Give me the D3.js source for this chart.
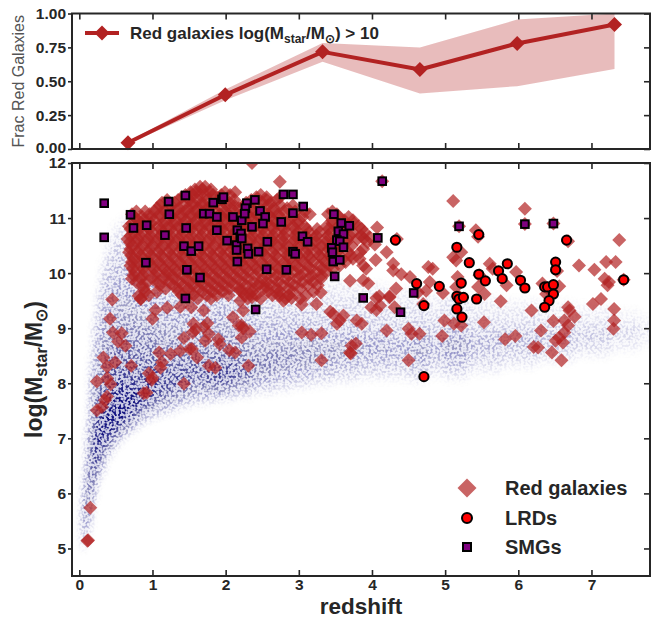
<!DOCTYPE html>
<html>
<head>
<meta charset="utf-8">
<script src="https://cdn.jsdelivr.net/npm/d3@7"></script>
<style>
  body { margin: 0; background: #fff; }
  svg { display: block; }
  text { font-family: "Liberation Sans", Arial, Helvetica, sans-serif; fill: #262626; }
</style>
</head>
<body>
<svg id="fig" width="664" height="619"></svg>
<script>
// ---------- fraction of red galaxies (log M* > 10) per redshift bin ----------
const fracZ   = [0.665, 1.995, 3.325, 4.655, 5.985, 7.315];
const fracVal = [0.046, 0.40, 0.717, 0.587, 0.779, 0.919];
const fracLo  = [0.036, 0.36, 0.643, 0.41, 0.464, 0.59];
const fracHi  = [0.056, 0.44, 0.783, 0.75, 0.955, 1.0];

// ---------- full photometric sample: density profile per redshift column ----------
const cloudZ   = [0.05, 0.1, 0.15, 0.2, 0.25, 0.3, 0.4, 0.5, 0.6, 0.7, 0.8, 0.9, 1.0, 1.1, 1.25, 1.4, 1.6, 1.8, 2.0, 2.2, 2.5, 2.8, 3.0, 3.3, 3.6, 4.0, 4.4, 4.65, 4.85, 5.1, 5.5, 6.0, 6.5, 7.0, 7.5, 7.8];
const cloudLo  = [4.9, 5.0, 5.3, 5.8, 6.1, 6.3, 6.6, 6.8, 6.95, 7.05, 7.15, 7.25, 7.3, 7.35, 7.4, 7.5, 7.55, 7.6, 7.65, 7.7, 7.75, 7.8, 7.85, 7.9, 7.95, 8.0, 8.0, 7.95, 8.05, 8.0, 8.1, 8.2, 8.3, 8.4, 8.5, 8.6];
const cloudPk  = [5.5, 5.9, 6.3, 6.7, 6.9, 7.1, 7.3, 7.4, 7.5, 7.6, 7.7, 7.8, 7.9, 7.95, 8.0, 8.1, 8.2, 8.15, 8.15, 8.2, 8.35, 8.45, 8.5, 8.55, 8.6, 8.65, 8.65, 8.6, 8.7, 8.7, 8.75, 8.8, 8.85, 8.9, 8.95, 9.0];
const cloudHi  = [6.4, 7.4, 8.6, 9.3, 9.8, 10.3, 10.7, 11.0, 11.1, 11.2, 11.1, 11.0, 11.1, 10.9, 10.8, 10.7, 10.6, 10.5, 10.5, 10.4, 10.3, 10.2, 10.1, 10.0, 10.0, 9.9, 9.8, 9.8, 9.7, 9.75, 9.65, 9.6, 9.55, 9.5, 9.4, 9.3];
const cloudDen = [0.35, 0.5, 0.65, 0.75, 0.82, 0.86, 0.92, 0.95, 0.9, 0.85, 0.8, 0.76, 0.76, 0.68, 0.66, 0.66, 0.62, 0.66, 0.7, 0.6, 0.5, 0.47, 0.45, 0.42, 0.38, 0.35, 0.32, 0.38, 0.3, 0.4, 0.28, 0.26, 0.24, 0.2, 0.15, 0.08];

// ---------- red galaxies: dense core, rows of [logM, redshifts] ----------
const redCoreRows = [
  [11.57, [1.65, 1.72]],
  [11.52, [1.58, 1.68, 1.80]],
  [11.47, [1.52, 1.60, 1.78, 1.99, 2.13]],
  [11.42, [1.45, 1.55, 1.65, 1.72, 1.83, 1.94, 2.06, 2.48]],
  [11.38, [1.40, 1.48, 1.88, 2.42, 2.56, 2.74]],
  [11.33, [1.20, 1.35, 1.50, 1.62, 1.75, 1.95, 2.12, 2.35, 2.56, 2.70]],
  [11.28, [1.13, 1.30, 1.55, 1.68, 1.87, 2.05, 2.28, 2.50, 2.62]],
  [11.23, [1.10, 1.25, 1.42, 1.55, 1.68, 1.82, 2.02, 2.12, 2.25, 2.44, 2.58, 2.75, 2.92]],
  [11.18, [1.06, 1.20, 1.36, 1.48, 1.62, 1.75, 1.95, 2.18, 2.36, 2.66, 2.84]],
  [11.12, [0.78, 0.90, 1.03, 1.17, 1.31, 1.45, 1.59, 1.73, 1.87, 1.99, 2.12, 2.25, 2.38, 2.52, 2.65, 2.80, 2.95, 3.08, 3.46]],
  [11.07, [0.72, 0.96, 1.10, 1.25, 1.38, 1.52, 1.66, 1.80, 1.92, 2.05, 2.30, 2.45, 2.58, 2.72, 3.15, 3.40, 3.52]],
  [11.02, [0.75, 0.86, 0.98, 1.12, 1.26, 1.40, 1.54, 1.68, 1.80, 1.94, 2.07, 2.20, 2.32, 2.46, 2.60, 2.74, 2.92, 3.05, 3.55, 3.68]],
  [10.96, [0.80, 0.88, 1.02, 1.18, 1.32, 1.46, 1.60, 1.74, 1.86, 2.00, 2.12, 2.25, 2.38, 2.52, 2.66, 2.86, 3.00, 3.46, 3.62, 3.74]],
  [10.90, [0.72, 0.85, 0.98, 1.15, 1.29, 1.43, 1.57, 1.71, 1.85, 1.99, 2.13, 2.27, 2.41, 2.55, 2.69, 2.83, 2.99, 3.46, 3.76]],
  [10.85, [0.68, 0.78, 0.92, 1.08, 1.22, 1.36, 1.50, 1.64, 1.78, 1.92, 2.06, 2.20, 2.34, 2.48, 2.62, 2.76, 2.92, 3.08, 3.38, 3.54, 3.68, 3.82]],
  [10.80, [0.70, 0.82, 0.96, 1.11, 1.25, 1.39, 1.53, 1.67, 1.81, 1.95, 2.09, 2.23, 2.37, 2.51, 2.65, 2.80, 2.95, 3.11, 3.25, 3.41, 3.57, 3.86]],
  [10.74, [0.74, 0.86, 1.00, 1.14, 1.28, 1.42, 1.56, 1.70, 1.84, 1.98, 2.12, 2.26, 2.40, 2.54, 2.68, 2.82, 2.98, 3.14, 3.28, 3.44, 3.60, 3.74, 3.90]],
  [10.68, [0.70, 0.83, 0.97, 1.11, 1.25, 1.39, 1.53, 1.67, 1.81, 1.95, 2.09, 2.23, 2.37, 2.51, 2.65, 2.79, 2.95, 3.09, 3.24, 3.40, 3.70, 3.85]],
  [10.62, [0.66, 0.80, 0.94, 1.08, 1.22, 1.36, 1.50, 1.64, 1.78, 1.92, 2.06, 2.20, 2.34, 2.48, 2.62, 2.76, 2.92, 3.06, 3.20, 3.36, 3.52, 3.66, 3.80]],
  [10.56, [0.69, 0.79, 0.93, 1.07, 1.21, 1.35, 1.49, 1.63, 1.77, 1.91, 2.05, 2.19, 2.33, 2.47, 2.62, 2.77, 2.92, 3.07, 3.22, 3.37, 3.51, 3.65, 3.94]],
  [10.50, [0.72, 0.86, 1.00, 1.14, 1.28, 1.42, 1.56, 1.70, 1.84, 1.98, 2.12, 2.26, 2.40, 2.54, 2.70, 2.84, 3.00, 3.14, 3.30, 3.44, 3.58, 3.72]],
  [10.44, [0.70, 0.83, 0.97, 1.11, 1.25, 1.39, 1.53, 1.67, 1.81, 1.95, 2.09, 2.23, 2.37, 2.52, 2.67, 2.82, 2.98, 3.12, 3.27, 3.41, 3.55, 3.88]],
  [10.38, [0.68, 0.80, 0.94, 1.08, 1.22, 1.36, 1.50, 1.64, 1.78, 1.92, 2.06, 2.20, 2.34, 2.50, 2.64, 2.80, 2.96, 3.10, 3.24, 3.38, 3.52, 3.68, 3.84]],
  [10.32, [0.71, 0.84, 0.98, 1.12, 1.26, 1.40, 1.54, 1.68, 1.82, 1.96, 2.10, 2.24, 2.38, 2.54, 2.68, 2.84, 2.99, 3.13, 3.28, 3.42, 3.71]],
  [10.26, [0.74, 0.88, 1.02, 1.16, 1.30, 1.44, 1.58, 1.72, 1.86, 2.00, 2.14, 2.28, 2.42, 2.58, 2.72, 2.88, 3.02, 3.16, 3.32, 3.46, 3.60, 3.74]],
  [10.20, [0.72, 0.81, 0.95, 1.09, 1.23, 1.37, 1.51, 1.65, 1.79, 1.93, 2.07, 2.21, 2.35, 2.49, 2.65, 2.80, 2.92, 3.06, 3.20, 3.36, 3.64]],
  [10.14, [0.70, 0.84, 0.98, 1.12, 1.26, 1.40, 1.54, 1.68, 1.82, 1.96, 2.10, 2.24, 2.38, 2.52, 2.68, 2.82, 2.96, 3.12, 3.28, 3.42, 3.56]],
  [10.08, [0.73, 0.87, 1.02, 1.16, 1.30, 1.44, 1.58, 1.72, 1.86, 2.00, 2.14, 2.28, 2.42, 2.56, 2.72, 2.86, 3.01, 3.16, 3.32, 3.47]],
  [10.02, [0.76, 0.90, 1.06, 1.20, 1.34, 1.48, 1.62, 1.76, 1.90, 2.04, 2.18, 2.32, 2.46, 2.62, 2.78, 2.94, 3.08, 3.24, 3.38]],
  [9.96,  [0.74, 0.87, 1.03, 1.18, 1.27, 1.41, 1.55, 1.69, 1.83, 1.97, 2.11, 2.25, 2.40, 2.56, 2.70, 2.86, 3.02, 3.17, 3.31]],
  [9.90,  [0.72, 0.84, 1.00, 1.16, 1.30, 1.46, 1.60, 1.74, 1.88, 2.02, 2.16, 2.30, 2.50, 2.66, 2.82, 2.98, 3.14, 3.30]],
  [9.84,  [0.78, 0.93, 1.08, 1.23, 1.37, 1.51, 1.65, 1.79, 1.93, 2.07, 2.22, 2.38, 2.56, 2.72, 2.88, 3.05, 3.20]],
  [9.78,  [0.86, 1.10, 1.28, 1.42, 1.56, 1.70, 1.84, 1.98, 2.12, 2.28, 2.44, 2.62, 2.78, 2.94, 3.12, 3.26]],
  [9.72,  [0.88, 1.18, 1.34, 1.49, 1.63, 1.77, 1.91, 2.05, 2.20, 2.36, 2.52, 2.70, 2.86, 3.02]],
  [9.66,  [0.90, 1.06, 1.36, 1.52, 1.68, 1.82, 1.96, 2.22, 2.36, 2.58, 2.74, 2.92, 3.20]],
  [9.60,  [0.95, 1.40, 1.56, 1.74, 1.88, 2.04, 2.26, 2.42, 2.64, 2.86]],
  [9.54,  [0.84, 1.46, 1.62, 1.80, 2.30, 2.48, 2.82, 3.02]]
];

// ---------- red galaxies outside the core: [redshift, logM] ----------
const redScatter = [
  [0.11, 5.14], [0.12, 5.15], [0.15, 5.74], [0.24, 7.51], [0.31, 7.57], [0.35, 7.69], [0.38, 7.76],
  [0.24, 8.03], [0.38, 8.09], [0.43, 7.98], [0.33, 8.47], [0.49, 8.38], [0.38, 8.30], [0.46, 8.92],
  [0.58, 8.91], [0.53, 8.76], [0.63, 8.68], [0.42, 9.17], [0.45, 9.52], [0.71, 8.32], [0.81, 9.59],
  [0.84, 9.53], [0.88, 7.82], [0.92, 7.83], [0.99, 8.06], [1.00, 9.17], [1.04, 9.33], [1.20, 9.37],
  [1.09, 8.56], [1.25, 8.53], [1.13, 8.38], [1.11, 8.28], [0.95, 8.18], [1.00, 8.10], [1.43, 7.99],
  [1.43, 8.82], [1.55, 8.92], [1.59, 8.97], [1.54, 8.62], [1.38, 9.39], [1.53, 9.38], [1.70, 9.32],
  [1.75, 9.09], [1.77, 8.90], [1.72, 8.77], [1.92, 8.71], [2.13, 8.56], [1.77, 8.32], [1.86, 8.28],
  [2.22, 9.05], [2.22, 8.83], [2.31, 8.32], [2.33, 8.94], [2.24, 9.00], [1.38, 8.59], [1.51, 8.62],
  [1.61, 8.47], [1.56, 9.08], [1.70, 9.02], [3.04, 8.92], [3.17, 8.88], [3.31, 8.91], [3.31, 8.42],
  [3.72, 8.68], [3.70, 8.56], [3.78, 8.72], [3.71, 8.54], [3.04, 9.43], [3.24, 9.44], [2.79, 9.50],
  [2.74, 9.59], [3.47, 9.26], [3.56, 9.14], [3.61, 9.23], [3.52, 9.08], [3.79, 9.14], [3.86, 9.08],
  [4.11, 9.41], [4.24, 9.56], [3.99, 9.38], [4.06, 9.55], [2.20, 9.50], [2.36, 9.56], [2.24, 9.32],
  [2.70, 9.62], [2.20, 9.68], [2.33, 9.62], [2.47, 9.81], [2.56, 9.75], [2.10, 9.20], [2.18, 9.05],
  [2.05, 8.60], [1.90, 8.80], [3.43, 9.30], [2.90, 9.55], [3.10, 9.60], [3.30, 9.65],
  [2.36, 12.0], [2.74, 11.66], [4.14, 11.67], [5.11, 11.31], [6.09, 11.17], [6.09, 10.89],
  [6.48, 10.90], [5.19, 10.85], [4.07, 10.83], [3.89, 10.63], [3.97, 10.65], [4.04, 10.52],
  [4.20, 10.38], [4.05, 10.24], [3.83, 10.26], [3.88, 10.14], [3.92, 10.08], [4.29, 10.17],
  [4.29, 10.05], [4.40, 9.98], [4.52, 9.93], [3.70, 9.86], [3.88, 9.87], [3.95, 9.81], [4.10, 9.58],
  [4.24, 9.58], [4.06, 9.33], [4.31, 9.38], [4.20, 8.96], [4.50, 8.99], [4.54, 8.90], [4.65, 8.90],
  [4.50, 8.42], [4.33, 9.72], [4.77, 10.11], [4.83, 10.08], [4.79, 9.84], [4.63, 9.65], [4.74, 9.68],
  [4.97, 9.64], [4.99, 9.14], [4.96, 8.86], [5.11, 10.29], [5.15, 10.23], [5.22, 10.38], [5.17, 9.93],
  [5.15, 9.75], [5.12, 9.08], [5.22, 9.05], [5.42, 10.78], [5.45, 10.66], [5.45, 9.75], [5.54, 9.62],
  [5.53, 9.11], [5.61, 10.17], [5.65, 10.08], [5.76, 9.49], [5.84, 9.78], [5.82, 8.80], [5.96, 8.86],
  [5.97, 10.02], [6.18, 9.32], [6.31, 8.96], [6.21, 8.66], [6.27, 8.65], [6.33, 9.81], [6.38, 9.62],
  [6.56, 9.76], [6.46, 8.56], [6.59, 8.42], [6.48, 9.13], [6.51, 8.77], [6.56, 8.83], [6.63, 8.92],
  [6.61, 8.74], [6.68, 9.38], [6.70, 9.32], [6.77, 9.21], [6.68, 10.58], [6.63, 9.14], [6.68, 9.05],
  [6.83, 10.14], [7.04, 10.06], [7.02, 9.44], [7.13, 9.53], [7.20, 10.20], [7.33, 10.20], [7.18, 9.90],
  [7.24, 9.84], [7.22, 9.78], [7.38, 10.60], [7.31, 9.35], [7.31, 9.14], [7.30, 8.99], [7.44, 9.88],
  [4.34, 10.62], [5.47, 9.96], [6.53, 10.04], [6.40, 9.72], [5.20, 9.56], [4.70, 9.44]
];

// ---------- little red dots: [redshift, logM] ----------
const lrds = [
  [4.32, 10.60], [4.61, 9.81], [4.71, 9.41], [4.71, 8.12], [4.92, 9.76], [5.16, 10.47], [5.33, 10.19],
  [5.22, 9.82], [5.16, 9.58], [5.19, 9.53], [5.25, 9.56], [5.16, 9.35], [5.23, 9.20], [5.43, 9.53],
  [5.46, 10.70], [5.46, 9.98], [5.55, 9.86], [5.73, 10.04], [5.78, 9.90], [5.85, 10.17], [6.03, 9.87],
  [6.09, 9.73], [6.36, 9.75], [6.40, 9.75], [6.48, 9.79], [6.48, 9.62], [6.42, 9.50], [6.36, 9.38],
  [6.51, 10.20], [6.51, 10.06], [6.66, 10.60], [7.44, 9.88]
];

// ---------- submillimetre galaxies: [redshift, logM] ----------
const smgs = [
  [0.34, 11.27], [0.34, 10.65], [0.70, 11.06], [0.74, 10.82], [0.92, 10.87], [0.91, 10.19],
  [1.22, 11.30], [1.23, 11.07], [1.17, 10.69], [1.45, 11.41], [1.46, 10.82], [1.43, 10.49],
  [1.53, 10.40], [1.63, 10.49], [1.47, 10.06], [1.65, 9.92], [1.45, 9.54], [1.70, 11.08],
  [1.78, 11.08], [1.88, 11.02], [1.83, 11.28], [1.95, 11.34], [1.97, 11.38], [1.88, 10.78],
  [2.02, 10.59], [2.10, 11.02], [2.16, 10.78], [2.15, 10.51], [2.15, 10.42], [2.16, 10.21],
  [2.20, 10.66], [2.21, 10.72], [2.22, 10.63], [2.29, 11.27], [2.27, 11.18], [2.22, 10.96],
  [2.26, 11.08], [2.30, 10.45], [2.31, 10.35], [2.40, 11.33], [2.47, 11.13], [2.54, 11.02],
  [2.51, 10.90], [2.36, 10.84], [2.57, 10.57], [2.45, 10.39], [2.92, 10.39], [2.95, 10.35],
  [2.56, 10.07], [2.83, 10.06], [3.05, 10.67], [3.12, 10.57], [2.79, 11.43], [2.92, 11.43],
  [3.06, 11.21], [2.92, 11.09], [2.76, 10.93], [3.48, 11.07], [3.58, 10.91], [3.69, 10.86],
  [3.54, 10.76], [3.61, 10.71], [3.52, 10.60], [3.56, 10.58], [3.61, 10.47], [3.45, 10.46],
  [3.46, 10.38], [3.47, 10.21], [3.56, 10.24], [3.49, 9.94], [4.08, 10.64], [3.88, 9.55],
  [4.57, 9.64], [4.14, 11.67], [4.39, 9.29], [5.19, 10.85], [6.09, 10.89], [6.48, 10.90],
  [2.41, 9.34]
];

// ---------- tick labels ----------
const zTicks    = [0, 1, 2, 3, 4, 5, 6, 7];
const massTicks = [5, 6, 7, 8, 9, 10, 11, 12];
const fracTicks = [0, 0.25, 0.5, 0.75, 1.0];

// ---------- palette ----------
const RED = "#b22222";
const INK = "#262626";

const svg  = d3.select("#fig");
const defs = svg.append("defs");

// shared redshift axis, two vertical scales
const x  = d3.scaleLinear().domain([-0.1, 7.8]).range([72, 650]);
const yM = d3.scaleLinear().domain([4.5, 12]).range([576, 163]);
const yF = d3.scaleLinear().domain([0, 1]).range([149, 13.5]);

function frame(g, x0, x1, y0, y1) {
  g.append("rect").attr("x", x0).attr("y", y0).attr("width", x1 - x0).attr("height", y1 - y0)
    .attr("fill", "none").attr("stroke", INK).attr("stroke-width", 2);
}
function styleAxis(g, size) {
  g.select(".domain").remove();
  g.selectAll(".tick line").attr("stroke", INK).attr("stroke-width", 1.6);
  g.selectAll(".tick text").attr("font-size", size).attr("font-weight", "bold").style("fill", INK);
}
const diamondPath = s => d3.symbol(d3.symbolSquare, s * s / 2)();  // s = diagonal length

// ======================= upper panel: red fraction =======================
const fracPanel = svg.append("g");
defs.append("clipPath").attr("id", "clipTop")
  .append("rect").attr("x", x.range()[0]).attr("y", yF(1)).attr("width", x.range()[1] - x.range()[0]).attr("height", yF(0) - yF(1));

const fracData = fracZ.map((z, i) => ({ z, v: fracVal[i], lo: fracLo[i], hi: fracHi[i] }));

fracPanel.append("path")
  .datum(fracData)
  .attr("clip-path", "url(#clipTop)")
  .attr("fill", RED).attr("fill-opacity", 0.3)
  .attr("d", d3.area().x(d => x(d.z)).y0(d => yF(d.lo)).y1(d => yF(d.hi)));

fracPanel.append("path")
  .datum(fracData)
  .attr("fill", "none").attr("stroke", RED).attr("stroke-width", 4).attr("stroke-linejoin", "round")
  .attr("d", d3.line().x(d => x(d.z)).y(d => yF(d.v)));

fracPanel.selectAll(".fm").data(fracData).join("path")
  .attr("d", diamondPath(15))
  .attr("transform", d => `translate(${x(d.z)},${yF(d.v)}) rotate(45)`)
  .attr("fill", RED);

fracPanel.append("g").attr("transform", `translate(${x.range()[0]},0)`)
  .call(d3.axisLeft(yF).tickValues(fracTicks).tickFormat(d3.format(".2f")).tickSize(4).tickPadding(2))
  .call(g => styleAxis(g, 15.5))
  .call(g => g.selectAll(".tick text").filter(d => d === 0).attr("dy", "0.2em"));
fracPanel.append("g").attr("transform", `translate(${x.range()[1]},0)`)
  .call(d3.axisLeft(yF).tickValues(fracTicks).tickFormat("").tickSize(6))
  .call(g => styleAxis(g, 15.5));
fracPanel.append("g").attr("transform", `translate(0,${yF(1)})`)
  .call(d3.axisBottom(x).tickValues(zTicks).tickFormat("").tickSize(6))
  .call(g => styleAxis(g, 15.5));
fracPanel.append("g").attr("transform", `translate(0,${yF(0)})`)
  .call(d3.axisTop(x).tickValues(zTicks).tickFormat("").tickSize(6))
  .call(g => styleAxis(g, 15.5));
frame(fracPanel, x.range()[0], x.range()[1], yF(1), yF(0));

fracPanel.append("text")
  .attr("transform", `translate(24,${(yF(0) + yF(1)) / 2}) rotate(-90)`)
  .attr("text-anchor", "middle").attr("font-size", 16).style("fill", "#555")
  .text("Frac Red Galaxies");

// legend of the upper panel
const lg = fracPanel.append("g");
lg.append("line").attr("x1", 85).attr("x2", 119).attr("y1", 33).attr("y2", 33)
  .attr("stroke", RED).attr("stroke-width", 4);
lg.append("path").attr("d", diamondPath(15)).attr("transform", "translate(102,33) rotate(45)").attr("fill", RED);
const lt = lg.append("text").attr("x", 130).attr("y", 39).attr("font-size", 17).attr("font-weight", "bold");
lt.append("tspan").text("Red galaxies log(M");
lt.append("tspan").attr("font-size", 12).attr("dy", 4).text("star");
lt.append("tspan").attr("dy", -4).text("/M");
lt.append("tspan").attr("font-size", 12).attr("dy", 4).text("⊙");
lt.append("tspan").attr("dy", -4).text(") > 10");

// ======================= lower panel: mass vs redshift =======================
const massPanel = svg.append("g");
defs.append("clipPath").attr("id", "clipBot")
  .append("rect").attr("x", x.range()[0]).attr("y", yM(12)).attr("width", x.range()[1] - x.range()[0]).attr("height", yM(4.5) - yM(12));
const plot = massPanel.append("g").attr("clip-path", "url(#clipBot)");

// parent sample: density haze broken up into small speckles
const grain = defs.append("filter").attr("id", "grain")
  .attr("x", "-3%").attr("y", "-3%").attr("width", "106%").attr("height", "106%");
grain.append("feGaussianBlur").attr("in", "SourceGraphic").attr("stdDeviation", 3).attr("result", "b");
grain.append("feTurbulence").attr("type", "fractalNoise").attr("baseFrequency", 0.42)
  .attr("numOctaves", 1).attr("seed", 11).attr("result", "n");
grain.append("feColorMatrix").attr("in", "n").attr("type", "matrix")
  .attr("values", "0 0 0 0 1  0 0 0 0 1  0 0 0 0 1  0 0 0 5 -2.2").attr("result", "m");
grain.append("feComposite").attr("in", "b").attr("in2", "m").attr("operator", "arithmetic")
  .attr("k1", 1.25).attr("k2", 0.3).attr("k3", 0).attr("k4", 0);

const cloud = plot.append("g").attr("filter", "url(#grain)");
cloudZ.forEach((z, i) => {
  const left  = i === 0 ? z - (cloudZ[1] - z) / 2 : (cloudZ[i - 1] + z) / 2;
  const right = i === cloudZ.length - 1 ? z + (z - cloudZ[i - 1]) / 2 : (z + cloudZ[i + 1]) / 2;
  const hi = cloudHi[i], lo = cloudLo[i], pk = cloudPk[i], d = cloudDen[i] * 0.8;
  const off = (hi - pk) / (hi - lo);
  const grad = defs.append("linearGradient").attr("id", "cg" + i)
    .attr("x1", 0).attr("x2", 0).attr("y1", 0).attr("y2", 1);
  [[0, 0], [off * 0.15, 0.18], [off * 0.55, 0.42], [off * 0.85, 0.75], [off, 1], [off + (1 - off) * 0.5, 0.6], [1, 0]]
    .forEach(([o, a]) => grad.append("stop").attr("offset", o).attr("stop-color", "#15157f").attr("stop-opacity", a * d));
  cloud.append("rect")
    .attr("x", x(left)).attr("width", x(right) - x(left) + 0.6)
    .attr("y", yM(hi)).attr("height", yM(lo) - yM(hi))
    .attr("fill", `url(#cg${i})`);
});

// red galaxies
const redAll = redScatter.concat(redCoreRows.flatMap(([m, zs]) => zs.map(z => [z, m])));
plot.append("g").selectAll("path").data(redAll).join("path")
  .attr("d", diamondPath(14))
  .attr("transform", d => `translate(${x(d[0])},${yM(d[1])}) rotate(45)`)
  .attr("fill", RED).attr("fill-opacity", 0.7);

// LRDs
plot.append("g").selectAll("circle").data(lrds).join("circle")
  .attr("cx", d => x(d[0])).attr("cy", d => yM(d[1])).attr("r", 4.6)
  .attr("fill", "#ff0000").attr("stroke", "#000").attr("stroke-width", 2);

// SMGs
plot.append("g").selectAll("rect").data(smgs).join("rect")
  .attr("x", d => x(d[0]) - 3.8).attr("y", d => yM(d[1]) - 3.8)
  .attr("width", 7.6).attr("height", 7.6)
  .attr("fill", "#800080").attr("stroke", "#000").attr("stroke-width", 2);

massPanel.append("g").attr("transform", `translate(${x.range()[0]},0)`)
  .call(d3.axisLeft(yM).tickValues(massTicks).tickFormat(d3.format("d")).tickSize(4).tickPadding(2))
  .call(g => styleAxis(g, 15.5));
massPanel.append("g").attr("transform", `translate(${x.range()[1]},0)`)
  .call(d3.axisLeft(yM).tickValues(massTicks).tickFormat("").tickSize(6))
  .call(g => styleAxis(g, 15.5));
massPanel.append("g").attr("transform", `translate(0,${yM(12)})`)
  .call(d3.axisBottom(x).tickValues(zTicks).tickFormat("").tickSize(6))
  .call(g => styleAxis(g, 15.5));
massPanel.append("g").attr("transform", `translate(0,${yM(4.5)})`)
  .call(d3.axisBottom(x).tickValues(zTicks).tickFormat(d3.format("d")).tickSize(-6).tickPadding(3))
  .call(g => styleAxis(g, 15.5));
frame(massPanel, x.range()[0], x.range()[1], yM(12), yM(4.5));

massPanel.append("text")
  .attr("x", (x.range()[0] + x.range()[1]) / 2).attr("y", 614)
  .attr("text-anchor", "middle").attr("font-size", 22.5).attr("font-weight", "bold")
  .text("redshift");

const yl = massPanel.append("text")
  .attr("transform", `translate(42,${(yM(4.5) + yM(12)) / 2}) rotate(-90)`)
  .attr("text-anchor", "middle").attr("font-size", 23).attr("font-weight", "bold");
yl.append("tspan").text("log(M");
yl.append("tspan").attr("font-size", 16).attr("dy", 5).text("star");
yl.append("tspan").attr("dy", -5).text("/M");
yl.append("tspan").attr("font-size", 16).attr("dy", 5).text("⊙");
yl.append("tspan").attr("dy", -5).text(")");

// legend of the lower panel
const bl = massPanel.append("g");
bl.append("path").attr("d", diamondPath(19)).attr("transform", "translate(467,488) rotate(45)")
  .attr("fill", RED).attr("fill-opacity", 0.7);
bl.append("circle").attr("cx", 467).attr("cy", 518).attr("r", 5)
  .attr("fill", "#ff0000").attr("stroke", "#000").attr("stroke-width", 2);
bl.append("rect").attr("x", 463).attr("y", 543).attr("width", 8).attr("height", 8)
  .attr("fill", "#800080").attr("stroke", "#000").attr("stroke-width", 2);
[["Red galaxies", 495], ["LRDs", 525], ["SMGs", 554]].forEach(([t, yy]) =>
  bl.append("text").attr("x", 505).attr("y", yy).attr("font-size", 20).attr("font-weight", "bold").text(t));
</script>
</body>
</html>
